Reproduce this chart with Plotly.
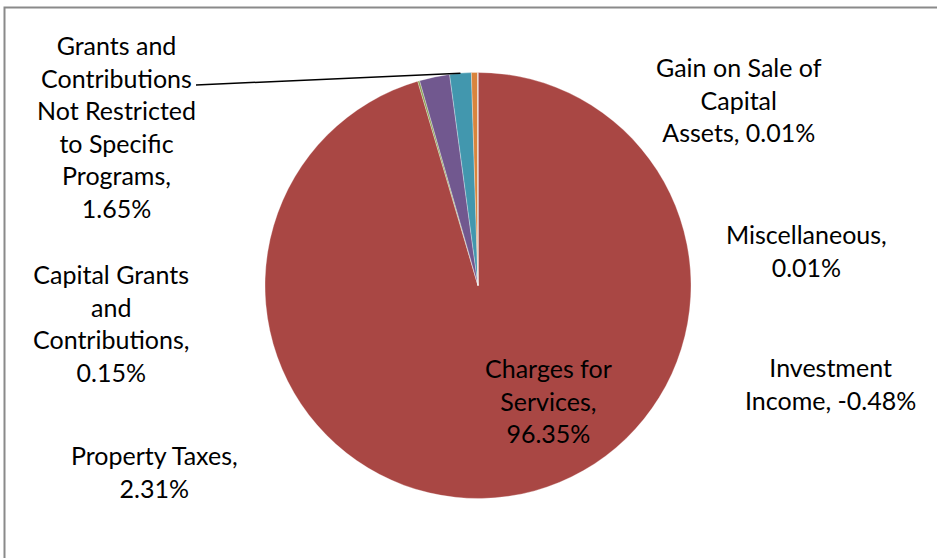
import math
import plotly.graph_objects as go

# Revenue sources (share of total revenue, %)
categories = [
    "Charges for Services",
    "Capital Grants and Contributions",
    "Property Taxes",
    "Grants and Contributions Not Restricted to Specific Programs",
    "Investment Income",
    "Miscellaneous",
    "Gain on Sale of Capital Assets",
]
shares = [96.35, 0.15, 2.31, 1.65, -0.48, 0.01, 0.01]
colors = ["#A94744", "#889F4E", "#71588F", "#4297AE", "#D9843D", "#A9B6CF", "#C4A2A6"]

# Label text, broken into lines as displayed
label_lines = [
    ["Charges for", "Services,"],
    ["Capital Grants", "and", "Contributions,"],
    ["Property Taxes,"],
    ["Grants and", "Contributions", "Not Restricted", "to Specific", "Programs,"],
    ["Investment", "Income,"],
    ["Miscellaneous,"],
    ["Gain on Sale of", "Capital", "Assets,"],
]
# whether the percentage goes on its own line or after the last word
value_new_line = [True, True, True, True, False, True, False]
# label block centres (px from top-left of the 937x558 canvas)
label_pos = [
    (548, 400), (111, 323), (154, 471), (116, 127),
    (830, 383), (806, 251), (739, 99),
]

W, H = 937, 558
CX, CY, R = 478, 285.5, 213

fig = go.Figure(
    go.Pie(
        labels=categories,
        values=[abs(v) for v in shares],
        sort=False,
        direction="clockwise",
        rotation=0,
        marker=dict(colors=colors, line=dict(color="rgba(255,255,255,0.5)", width=0.6)),
        textinfo="none",
        hoverinfo="label+percent",
        showlegend=False,
        domain=dict(
            x=[(CX - R) / W, (CX + R) / W],
            y=[(H - CY - R) / H, (H - CY + R) / H],
        ),
    )
)

FONT = dict(family="Lato, 'Open Sans', sans-serif", size=25, color="#000000")

annotations = []
for lines, val, newline, (px, py) in zip(label_lines, shares, value_new_line, label_pos):
    pct = f"{val:.2f}%"
    if newline:
        parts = lines + [pct]
    else:
        parts = lines[:-1] + [f"{lines[-1]} {pct}"]
    annotations.append(dict(
        x=px / W, y=1 - py / H, xref="paper", yref="paper",
        text="<br>".join(parts), showarrow=False, font=FONT, align="center",
        xanchor="center", yanchor="middle",
    ))

# leader line from the grants label to the middle of its slice on the rim
total = sum(abs(v) for v in shares)
start = sum(abs(v) for v in shares[:3])
mid_frac = (start + abs(shares[3]) / 2) / total
ang = 2 * math.pi * mid_frac
ex, ey = CX + R * math.sin(ang), CY - R * math.cos(ang)

shapes = [
    dict(type="line", xref="paper", yref="paper",
         x0=196 / W, y0=1 - 85 / H, x1=ex / W, y1=1 - ey / H,
         line=dict(color="#000000", width=1.5)),
    # chart-area frame
    dict(type="rect", xref="paper", yref="paper",
         x0=4.5 / W, y0=-0.05, x1=1.05, y1=1 - 7.5 / H,
         line=dict(color="#8a8a8a", width=2), fillcolor="rgba(0,0,0,0)"),
]

fig.update_layout(
    width=W, height=H,
    margin=dict(l=0, r=0, t=0, b=0),
    paper_bgcolor="#ffffff",
    plot_bgcolor="#ffffff",
    annotations=annotations,
    shapes=shapes,
)

fig.write_html("out.html")
